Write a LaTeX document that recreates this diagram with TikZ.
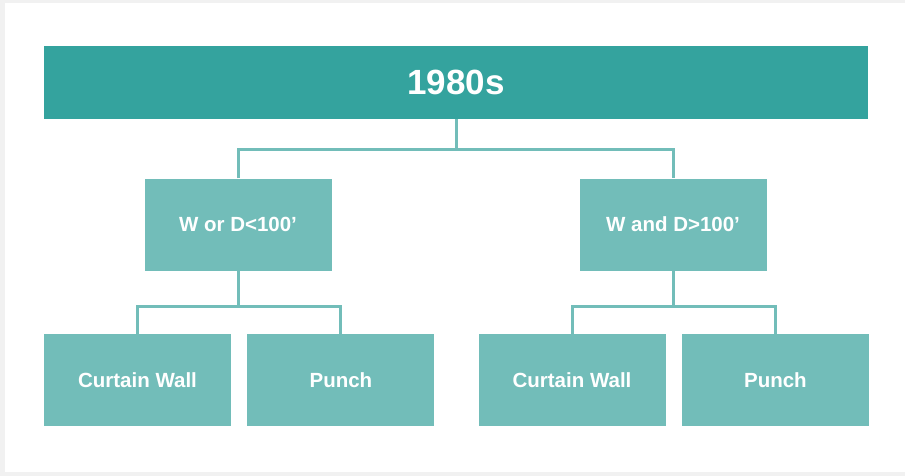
\documentclass[tikz,border=0pt]{standalone}
\usepackage{fontspec}
\setmainfont{Liberation Sans}
\usepackage{xcolor}
\usepackage{tikz}
\usetikzlibrary{positioning}

\definecolor{tealdark}{HTML}{34A39E}
\definecolor{teallight}{HTML}{72BDB9}
\definecolor{panelgray}{HTML}{F1F1F1}

\begin{document}
\begin{tikzpicture}[
    x=1pt, y=-1pt,
    node distance=63pt and 16pt,
    bar/.style={rectangle, fill=tealdark, minimum width=824pt, minimum height=73pt, inner sep=0pt, text=white, font=\bfseries\fontsize{35}{42}\selectfont},
    box/.style={rectangle, fill=teallight, minimum width=187pt, minimum height=92pt, inner sep=0pt, align=center, text=white, font=\bfseries\fontsize{20.5}{24}\selectfont},
    link/.style={draw=teallight, line width=3pt}
]

% page and panel
\fill[panelgray] (0,0) rectangle (905,476);
\fill[white] (5,3) rectangle (905,472);
\useasboundingbox (0,0) rectangle (905,476);

\node[bar] (decade) at (456,82.5) {1980s};
\node[box] (smallbox) at (238,224.5) {W or D<100’};
\node[box] (largebox) at (673,224.5) {W and D>100’};

\node[box, below=63pt of smallbox, xshift=-100.5pt] (wallA) {Curtain Wall};
\node[box, right=of wallA] (punchA) {Punch};
\node[box, below=63pt of largebox, xshift=-101pt] (wallB) {Curtain Wall};
\node[box, right=of wallB] (punchB) {Punch};

% connectors
\draw[link] (decade.south) -- ++(0,30.5) coordinate (topsplit);
\draw[link] (smallbox.north) |- (topsplit) -| (largebox.north);
\draw[link] (smallbox.south) -- ++(0,36) coordinate (leftsplit);
\draw[link] (wallA.north) |- (leftsplit) -| (punchA.north);
\draw[link] (largebox.south) -- ++(0,36) coordinate (rightsplit);
\draw[link] (wallB.north) |- (rightsplit) -| (punchB.north);

\end{tikzpicture}
\end{document}
